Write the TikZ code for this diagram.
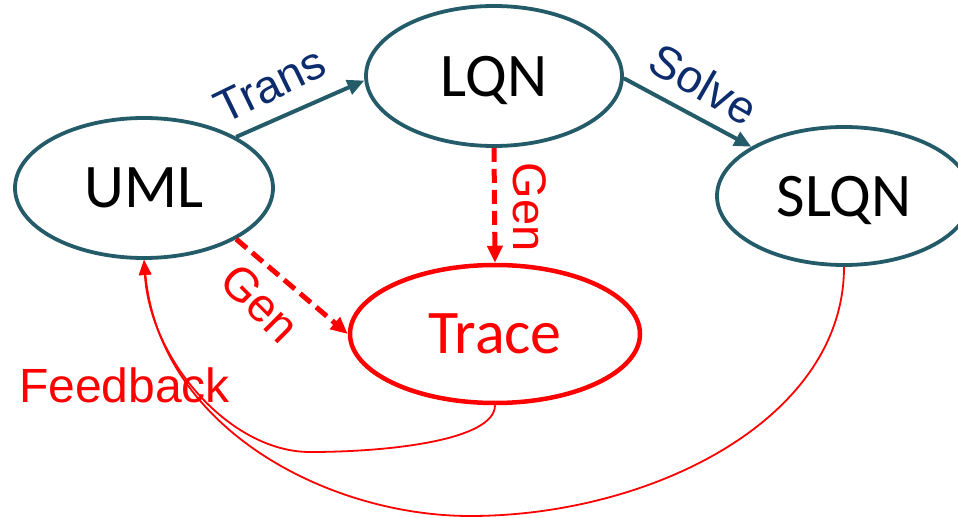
\documentclass[tikz,border=0pt]{standalone}
\usepackage{fontspec}
\setmainfont{Carlito}
\newfontfamily\labelfont{Liberation Sans}
\usetikzlibrary{shapes.geometric,arrows.meta}
\definecolor{tealline}{HTML}{245B69}
\definecolor{navytext}{HTML}{0C2C6E}
\definecolor{purered}{HTML}{FF0000}
\tikzset{
  model/.style={ellipse, draw=tealline, line width=3.8pt, inner sep=0pt,
    text depth=0pt, font=\fontsize{62}{62}\selectfont},
  tracebox/.style={ellipse, draw=purered, line width=4.5pt, inner sep=0pt,
    text=purered, text depth=0pt, font=\fontsize{62}{62}\selectfont},
  flow/.style={draw=tealline, line width=4pt,
    -{Triangle[length=17pt,width=15pt]}},
  genarrow/.style={draw=purered, line width=5pt, dash pattern=on 14pt off 7pt,
    -{Triangle[length=17pt,width=15pt]}},
  feedback/.style={draw=purered, line width=1.8pt,
    -{Triangle[length=15pt,width=12pt]}},
  bluelabel/.style={text=navytext, font=\labelfont\fontsize{46}{46}\selectfont, inner sep=0pt},
  redlabel/.style={text=purered, font=\labelfont\fontsize{47}{47}\selectfont, inner sep=0pt},
}
\begin{document}
\begin{tikzpicture}[x=1pt, y=-1pt]
  \fill[white] (0,0) rectangle (958,518);
  \useasboundingbox (0,0) rectangle (958,518);

  % model nodes
  \node[model, minimum width=258pt, minimum height=140pt] (uml) at (144,188) {UML};
  \node[model, minimum width=256pt, minimum height=140pt] (lqn) at (494,76) {LQN};
  \node[model, minimum width=254pt, minimum height=138pt] (slqn) at (844,196) {SLQN};
  \node[tracebox, minimum width=290pt, minimum height=138pt] (trace) at (495,334) {Trace};

  % transformations
  \draw[flow] (uml.29) -- (lqn.182);
  \draw[flow] (lqn.-1) -- (slqn.152);

  % generation of traces
  \draw[genarrow] (uml.-29) -- (trace.180);
  \draw[genarrow] (lqn.south) -- (trace.north);

  % feedback loops
  \draw[feedback] (trace.south) .. controls (495,440) and (390,452) .. (310,452)
                  .. controls (230,452) and (150,360) .. (uml.south);
  \draw[feedback] (slqn.south) .. controls (844,420) and (650,516) .. (470,516)
                  .. controls (330,516) and (160,430) .. (uml.south);

  % labels
  \node[bluelabel, rotate=26] (transl) at (270,85) {Trans};
  \node[bluelabel, rotate=-30] (solvel) at (704,84) {Solve};
  \node[redlabel, rotate=-90] (genv) at (530,207) {Gen};
  \node[redlabel, rotate=-45] (gend) at (260,303) {Gen};
  \node[redlabel, anchor=base west, font=\labelfont\fontsize{48}{48}\selectfont] (fbl) at (19,402) {Feedback};
\end{tikzpicture}
\end{document}
